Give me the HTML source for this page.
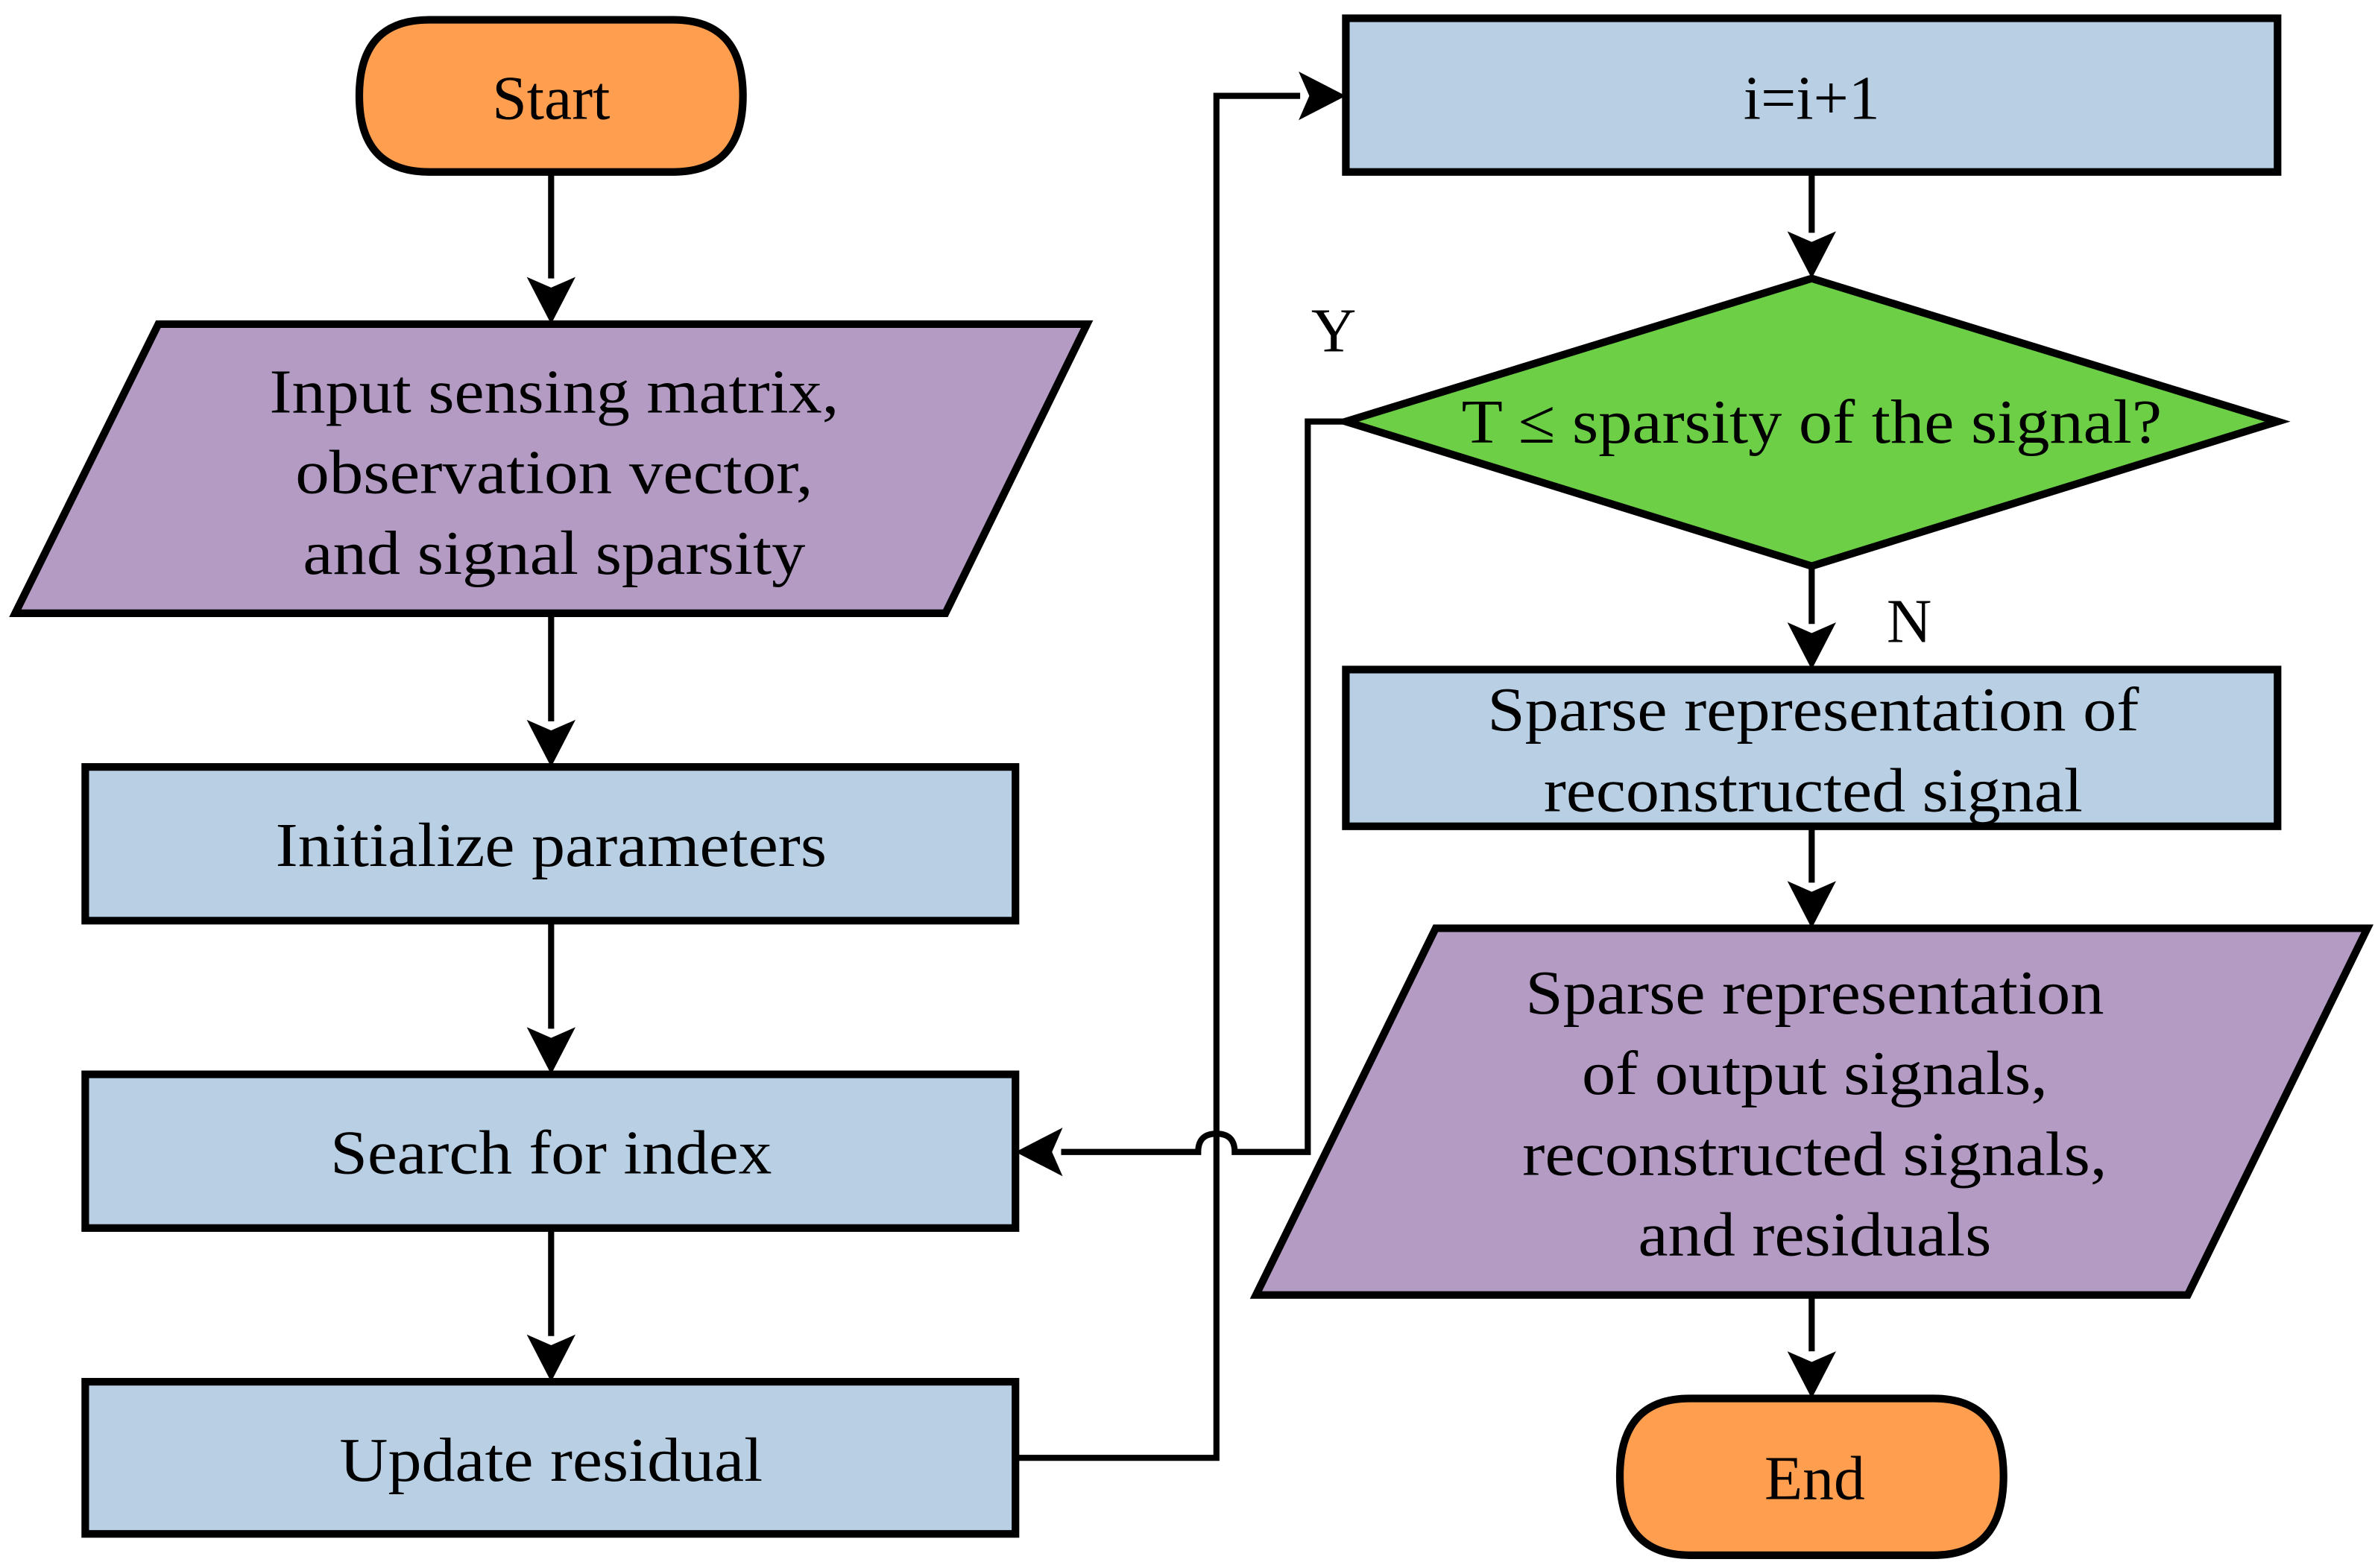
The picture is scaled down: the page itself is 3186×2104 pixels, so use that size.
<!DOCTYPE html>
<html><head><meta charset="utf-8"><style>
html,body{margin:0;padding:0;background:#fff;}
svg{display:block;}
text{font-family:"Liberation Serif",serif;font-size:41px;fill:#000;text-anchor:middle;}
</style></head><body>
<svg width="3186" height="2104" viewBox="0 0 1560 1030.4" preserveAspectRatio="none" xmlns="http://www.w3.org/2000/svg">
<g stroke="#000" stroke-width="5" stroke-linejoin="miter">
<path d="M282,13 H442 Q488,13 488,63 Q488,113 442,113 H282 Q236,113 236,63 Q236,13 282,13 Z" fill="#FF9E4F"/>
<polygon points="104,213 714,213 621,403 10,403" fill="#B39BC4"/>
<rect x="56" y="504" width="611" height="101" fill="#B9CFE4"/>
<rect x="56" y="706" width="611" height="101" fill="#B9CFE4"/>
<rect x="56" y="908" width="611" height="100" fill="#B9CFE4"/>
<rect x="884" y="12" width="612" height="101" fill="#B9CFE4"/>
<polygon points="1190,183 1496,277 1190,372 884,277" fill="#6DCF45"/>
<rect x="884" y="440" width="612" height="103" fill="#B9CFE4"/>
<polygon points="943,610 1555,610 1437,851 825,851" fill="#B39BC4"/>
<path d="M1110,919 H1270 Q1316,919 1316,970 Q1316,1022 1270,1022 H1110 Q1064,1022 1064,970 Q1064,919 1110,919 Z" fill="#FF9E4F"/>
</g>
<g stroke="#000" stroke-width="4" fill="none">
<line x1="362" y1="113" x2="362" y2="183"/>
<line x1="362" y1="403" x2="362" y2="474"/>
<line x1="362" y1="605" x2="362" y2="676"/>
<line x1="362" y1="807" x2="362" y2="878"/>
<line x1="1190" y1="113" x2="1190" y2="153"/>
<line x1="1190" y1="372" x2="1190" y2="410"/>
<line x1="1190" y1="543" x2="1190" y2="580"/>
<line x1="1190" y1="851" x2="1190" y2="888"/>
<polyline points="667,958 799,958 799,63 854,63"/>
<path d="M884,277 H859 V757 H811 Q811,745 799,745 Q787,745 787,757 H697"/>
</g>
<g fill="#000">
<polygon points="362,213 346,182 362,189 378,182"/>
<polygon points="362,504 346,473 362,480 378,473"/>
<polygon points="362,706 346,675 362,682 378,675"/>
<polygon points="362,908 346,877 362,884 378,877"/>
<polygon points="1190,183 1174,152 1190,159 1206,152"/>
<polygon points="1190,440 1174,409 1190,416 1206,409"/>
<polygon points="1190,610 1174,579 1190,586 1206,579"/>
<polygon points="1190,919 1174,888 1190,895 1206,888"/>
<polygon points="884,63 853,47 860,63 853,79"/>
<polygon points="667,757 698,741 691,757 698,773"/>
</g>
<text x="362" y="78">Start</text>
<text x="364" y="271" textLength="374" lengthAdjust="spacingAndGlyphs">Input sensing matrix,</text>
<text x="364" y="324" textLength="340" lengthAdjust="spacingAndGlyphs">observation vector,</text>
<text x="364" y="377" textLength="330" lengthAdjust="spacingAndGlyphs">and signal sparsity</text>
<text x="362" y="569" textLength="362" lengthAdjust="spacingAndGlyphs">Initialize parameters</text>
<text x="362" y="771" textLength="290" lengthAdjust="spacingAndGlyphs">Search for index</text>
<text x="362" y="973" textLength="278" lengthAdjust="spacingAndGlyphs">Update residual</text>
<text x="1190" y="78">i=i+1</text>
<text x="1190" y="291" textLength="460" lengthAdjust="spacingAndGlyphs">T ≤ sparsity of the signal?</text>
<text x="876" y="231">Y</text>
<text x="1254" y="422">N</text>
<text x="1191" y="480" textLength="428" lengthAdjust="spacingAndGlyphs">Sparse representation of</text>
<text x="1191" y="533" textLength="354" lengthAdjust="spacingAndGlyphs">reconstructed signal</text>
<text x="1192" y="666" textLength="380" lengthAdjust="spacingAndGlyphs">Sparse representation</text>
<text x="1192" y="719" textLength="306" lengthAdjust="spacingAndGlyphs">of output signals,</text>
<text x="1192" y="772" textLength="384" lengthAdjust="spacingAndGlyphs">reconstructed signals,</text>
<text x="1192" y="825" textLength="232" lengthAdjust="spacingAndGlyphs">and residuals</text>
<text x="1192" y="985">End</text>
</svg>
</body></html>
